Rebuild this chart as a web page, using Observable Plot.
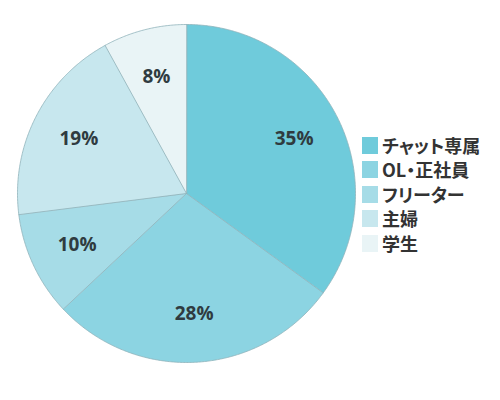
<!DOCTYPE html>
<html>
<head>
<meta charset="utf-8">
<script src="https://cdn.jsdelivr.net/npm/d3@7"></script>
<script src="https://cdn.jsdelivr.net/npm/@observablehq/plot@0.6"></script>
<style>
  html, body { margin: 0; padding: 0; background: #fff; }
  #wrap { position: relative; width: 500px; height: 400px; }
  #legend { position: absolute; left: 362px; top: 133px; font-family: "Noto Sans CJK JP", "Noto Sans", sans-serif; font-weight: 700; font-size: 18px; color: #333; font-feature-settings: "palt"; }
  .item { display: flex; align-items: center; height: 24.5px; }
  .sw { width: 16px; height: 17px; margin-right: 4px; flex: none; }
  .lab { line-height: 17px; white-space: nowrap; }
</style>
</head>
<body>
<div id="wrap"><div id="chart"></div><div id="legend"></div></div>
<script>
const categories = ["チャット専属", "OL・正社員", "フリーター", "主婦", "学生"];
const values = [35, 28, 10, 19, 8];
const colors = ["#6fcbdb", "#8cd4e2", "#a6dce7", "#c7e7ee", "#e9f4f6"];

const data = categories.map((c, i) => ({category: c, value: values[i]}));
const arcs = d3.pie().sort(null).value(d => d.value)(data);

// polygon points for each slice (center -> arc -> center)
const pts = [];
for (const a of arcs) {
  const c = a.data.category;
  pts.push({category: c, x: 0, y: 0});
  const steps = Math.max(2, Math.ceil((a.endAngle - a.startAngle) / (Math.PI / 360)));
  for (let k = 0; k <= steps; k++) {
    const t = a.startAngle + (a.endAngle - a.startAngle) * k / steps;
    pts.push({category: c, x: Math.sin(t), y: Math.cos(t)});
  }
}
const labelR = 0.715;
const labels = arcs.map(a => {
  const m = (a.startAngle + a.endAngle) / 2;
  return {text: a.data.value + "%", x: labelR * Math.sin(m), y: labelR * Math.cos(m)};
});

const chart = Plot.plot({
  width: 500,
  height: 400,
  margin: 0,
  x: {domain: [-1, 1], range: [17, 355], axis: null},
  y: {domain: [-1, 1], range: [362, 24], axis: null},
  color: {domain: categories, range: colors},
  marks: [
    Plot.line(pts, {x: "x", y: "y", z: "category", fill: "category", stroke: "#8fb3ba", strokeWidth: 0.8, curve: "linear-closed", strokeLinejoin: "round"}),
    Plot.text(labels, {x: "x", y: "y", text: "text", fill: "#2f3b40", fontSize: 19, fontWeight: "bold", fontFamily: "'Open Sans', 'Noto Sans', sans-serif"})
  ]
});
document.getElementById("chart").appendChild(chart);

const leg = document.getElementById("legend");
categories.forEach((c, i) => {
  const row = document.createElement("div");
  row.className = "item";
  const sw = document.createElement("div");
  sw.className = "sw";
  sw.style.background = colors[i];
  const lab = document.createElement("span");
  lab.className = "lab";
  lab.textContent = c;
  row.appendChild(sw);
  row.appendChild(lab);
  leg.appendChild(row);
});
</script>
</body>
</html>
